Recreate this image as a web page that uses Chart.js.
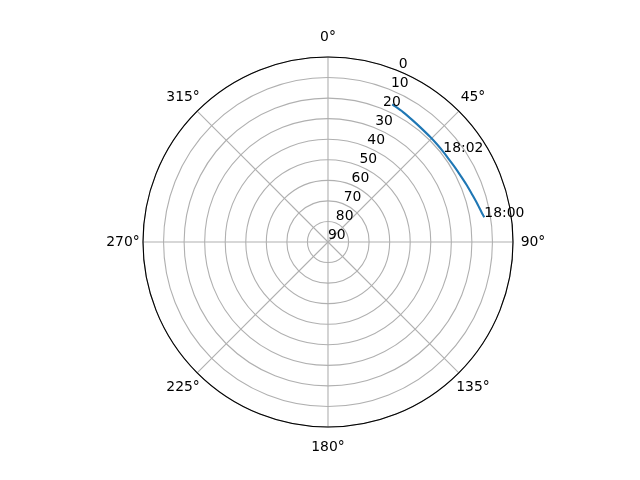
<!DOCTYPE html>
<html>
<head>
<meta charset="utf-8">
<script src="https://cdn.jsdelivr.net/npm/chart.js@4/dist/chart.umd.min.js"></script>
<style>
    html, body { margin: 0; padding: 0; background: #fff; }
    canvas { display: block; }
</style>
</head>
<body>
<canvas id="grafico" width="640" height="480"></canvas>
<script>
// AZIMUTE (GRAUS, 0 = NORTE, SENTIDO HORARIO) E VALOR RADIAL
var azimute = [25, 30, 35, 39, 44, 48, 52, 56, 60, 64, 68, 72, 76, 79, 81];
var zenite = [16.1, 17.0, 17.9, 18.4, 18.7, 18.8, 18.8, 18.7, 18.3, 17.8, 17.0, 16.1, 14.9, 13.9, 13.0];
// ROTULOS DE HORA E O AZIMUTE ONDE FICAM
var horas = ['18:00', '18:02'];
var horasAz = [81, 52];
// TICKS
var angulos = [0, 45, 90, 135, 180, 225, 270, 315];
var raioMin = 0;
var raioMax = 90;
var raioPasso = 10;
var posRotuloRaio = 22.5;

var fonte = '13.9px "DejaVu Sans"';

// UM ROTULO POR GRAU, SO OS DE 45 EM 45 TEM TEXTO
var labels = [];
for (var a = 0; a < 360; a++) {
    labels.push(angulos.indexOf(a) >= 0 ? a + '°' : '');
}
var serie = [];
for (var a = 0; a < 360; a++) serie.push(null);
azimute.forEach(function (az, k) { serie[az] = zenite[k]; });

// O RADAR FECHA A LINHA POR PADRAO, AQUI ELA FICA ABERTA
class LinhaAberta extends Chart.RadarController {
    update(mode) {
        super.update(mode);
        this._cachedMeta.dataset._loop = false;
    }
}
LinhaAberta.id = 'linhaAberta';
LinhaAberta.defaults = Chart.RadarController.defaults;
Chart.register(LinhaAberta);

var rotulos = {
    id: 'rotulos',
    afterDatasetsDraw: function (chart) {
        var ctx = chart.ctx;
        var r = chart.scales.r;
        var borda = r.getDistanceFromCenterForValue(raioMin);
        ctx.save();
        // CIRCULO EXTERNO
        ctx.beginPath();
        ctx.arc(r.xCenter, r.yCenter, borda, 0, 2 * Math.PI);
        ctx.strokeStyle = '#000';
        ctx.lineWidth = 1.1;
        ctx.stroke();
        ctx.font = fonte;
        ctx.fillStyle = '#000';
        // ANGULOS
        ctx.textAlign = 'center';
        ctx.textBaseline = 'middle';
        chart.data.labels.forEach(function (txt, i) {
            if (!txt) return;
            var p = r.getPointPosition(i, borda + 20);
            ctx.fillText(txt, p.x, p.y);
        });
        // VALORES DO RAIO
        ctx.textAlign = 'left';
        ctx.textBaseline = 'bottom';
        r.ticks.forEach(function (t) {
            var p = r.getPointPositionForValue(posRotuloRaio, t.value);
            ctx.fillText(t.label, p.x, p.y);
        });
        // HORAS
        ctx.textBaseline = 'alphabetic';
        var pontos = chart.getDatasetMeta(0).data;
        horas.forEach(function (h, k) {
            var pt = pontos[horasAz[k]];
            ctx.fillText(h, pt.x, pt.y);
        });
        ctx.restore();
    }
};

var ctx = document.getElementById('grafico').getContext('2d');
var grafico = new Chart(ctx, {
    type: 'linhaAberta',
    data: {
        labels: labels,
        datasets: [
            {
                data: serie,
                borderColor: '#1f77b4',
                borderWidth: 2.1,
                pointRadius: 0,
                fill: false,
                spanGaps: true,
                tension: 0.3
            }
        ]
    },
    options: {
        responsive: false,
        animation: false,
        events: [],
        layout: {
            padding: { top: 57, bottom: 53, left: 17, right: 0 }
        },
        plugins: {
            legend: { display: false },
            tooltip: { enabled: false }
        },
        scales: {
            r: {
                type: 'radialLinear',
                min: raioMin,
                max: raioMax,
                reverse: true,
                ticks: { display: false, stepSize: raioPasso },
                pointLabels: { display: false },
                grid: { circular: true, color: '#b0b0b0', lineWidth: 1.1 },
                angleLines: {
                    color: '#b0b0b0',
                    lineWidth: function (c) { return c.index % 45 === 0 ? 1.1 : 0; }
                }
            }
        }
    },
    plugins: [rotulos]
});
</script>
</body>
</html>
